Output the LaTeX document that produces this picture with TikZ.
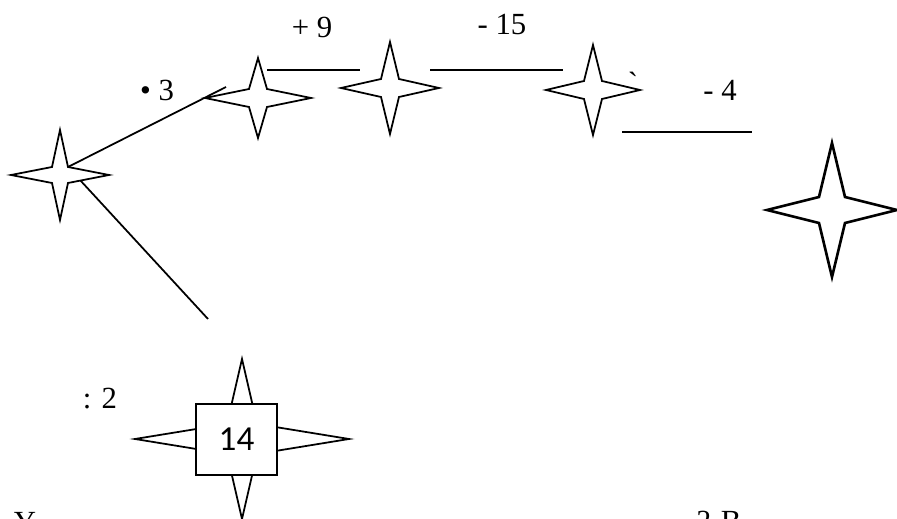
\documentclass[tikz,border=0pt]{standalone}
\usepackage{fontspec}
\setmainfont{Liberation Serif}[Ligatures=TeXOff]
\newfontfamily\boxfont{Carlito}
\usetikzlibrary{positioning}
\tikzset{
  starline/.style={draw=black,line join=miter,fill=white},
  link/.style={draw=black},
  lbl/.style={inner sep=0pt,font=\fontsize{17.5}{20}\selectfont},
  numbox/.style={draw=black,fill=white,inner sep=0pt,
    minimum width=1.62cm,minimum height=1.42cm,
    font=\boxfont\fontsize{20}{24}\selectfont},
  pics/sparkle/.style args={#1/#2/#3}{code={
    \path[starline] (0,-#2) -- (#3,-#3) -- (#1,0) -- (#3,#3) -- (0,#2)
      -- (-#3,#3) -- (-#1,0) -- (-#3,-#3) -- cycle;
  }}
}

\begin{document}
\begin{tikzpicture}[x=0.02cm,y=-0.02cm,line width=1pt]
  \useasboundingbox (0,0) rectangle (897,519);

  % stars
  \coordinate (starA) at (60,175);
  \coordinate (starB) at (258,98);
  \coordinate (starC) at (390,88);
  \coordinate (starD) at (593,90);
  \coordinate (starE) at (832,210);
  \coordinate (starF) at (242,439);

  \coordinate (fork) at (68,167);
  \coordinate (upEnd) at (226,87);
  \coordinate (downEnd) at (208,319);
  \draw[link] (fork) -- (upEnd);
  \draw[link] (fork) -- (downEnd);

  \pic at (starA) {sparkle=49/45/8};
  \pic at (starB) {sparkle=53/40/9};
  \pic at (starC) {sparkle=49/46/9};
  \pic at (starD) {sparkle=47/45/9};
  \pic[line width=1.5pt] at (starE) {sparkle=65/67/13};
  \pic at (starF) {sparkle=107/80/15};

  \node[numbox] (fourteen) at (236.5,439.5) {14};

  % steps
  \coordinate (bcL) at (267,70);
  \coordinate (bcR) at (360,70);
  \coordinate (cdL) at (430,70);
  \coordinate (cdR) at (563,70);
  \coordinate (deL) at (622,132);
  \coordinate (deR) at (752,132);
  \draw[link] (bcL) -- (bcR);
  \draw[link] (cdL) -- (cdR);
  \draw[link] (deL) -- (deR);

  \node[lbl] (plusNine) at (312,27) {+ 9};
  \node[lbl] (minusFifteen) at (502,25) {- 15};
  \node[lbl] (timesThree) at (157,90) {• 3};
  \node[lbl] (minusFour) at (720,90) {- 4};
  \node[lbl] (divTwo) at (100,399) {: 2};
  \node[lbl,anchor=north] (tick) at (633,71) {\char96};
  \node[lbl,anchor=north] (askY) at (25,511) {Y};
  \node[lbl,anchor=north west] (askB) at (696,510) {? B};
\end{tikzpicture}
\end{document}
